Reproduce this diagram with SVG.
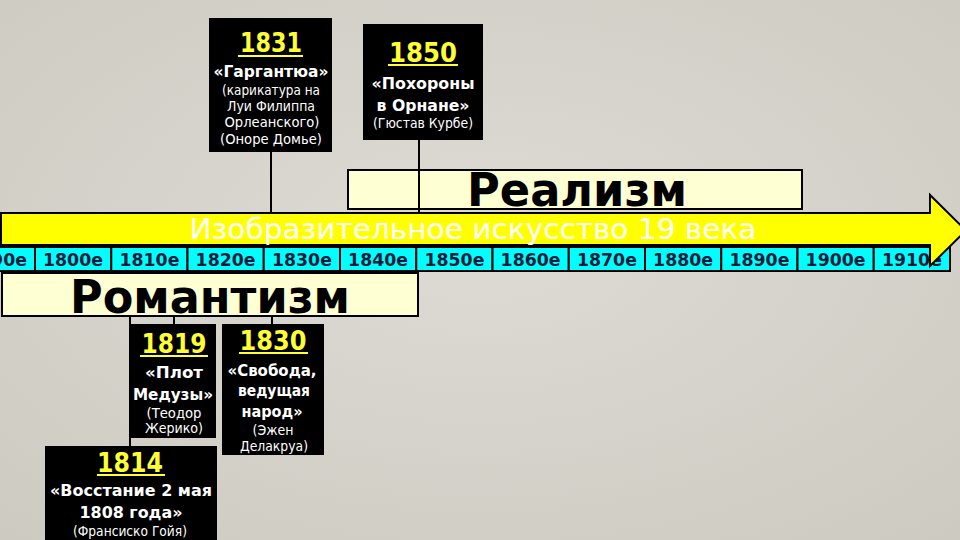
<svg xmlns="http://www.w3.org/2000/svg" width="960" height="540" viewBox="0 0 960 540">
<defs>
<radialGradient id="bg" cx="50%" cy="45%" r="75%">
<stop offset="0" stop-color="#dedbd4"/>
<stop offset="1" stop-color="#cdcac2"/>
</radialGradient>
<style>
text{font-family:"DejaVu Sans","Noto Sans",sans-serif;text-anchor:middle}
.box{fill:#000}
.yr{fill:#ffff33;font-weight:bold;font-size:26px}
.ul{stroke:#ffff33;stroke-width:2}
.t{fill:#fff;font-weight:bold;font-size:16px}
.s{fill:#fff;font-size:13.5px}
.cell{fill:#00ffff;stroke:#000;stroke-width:2}
.ct{fill:#0d1b3a;font-weight:bold;font-size:18px}
.era{fill:#ffffd4;stroke:#000;stroke-width:2}
.et{fill:#000;font-weight:bold;font-size:47px}
.ln{stroke:#000;stroke-width:2;fill:none}
</style>
</defs>
<rect width="960" height="540" fill="url(#bg)"/>

<g id="realism">
<rect class="era" x="348" y="170" width="454" height="39"/>
<text class="et" x="577" y="206" textLength="220" lengthAdjust="spacingAndGlyphs">Реализм</text>
</g>

<g id="romanticism">
<rect class="era" x="2" y="273" width="416" height="43"/>
<text class="et" x="210" y="313" textLength="280" lengthAdjust="spacingAndGlyphs">Романтизм</text>
</g>

<g id="connectors">
<line class="ln" x1="271" y1="152" x2="271" y2="213"/>
<line class="ln" x1="419" y1="140" x2="419" y2="213"/>
<line class="ln" x1="130" y1="316" x2="130" y2="446"/>
<line class="ln" x1="174" y1="316" x2="174" y2="324"/>
<line class="ln" x1="272" y1="316" x2="272" y2="324"/>
</g>

<g id="timeline">
<rect class="cell" x="-41.25" y="247" width="76.25" height="24"/>
<rect class="cell" x="35" y="247" width="76.25" height="24"/>
<rect class="cell" x="111.25" y="247" width="76.25" height="24"/>
<rect class="cell" x="187.5" y="247" width="76.25" height="24"/>
<rect class="cell" x="263.75" y="247" width="76.25" height="24"/>
<rect class="cell" x="340" y="247" width="76.25" height="24"/>
<rect class="cell" x="416.25" y="247" width="76.25" height="24"/>
<rect class="cell" x="492.5" y="247" width="76.25" height="24"/>
<rect class="cell" x="568.75" y="247" width="76.25" height="24"/>
<rect class="cell" x="645" y="247" width="76.25" height="24"/>
<rect class="cell" x="721.25" y="247" width="76.25" height="24"/>
<rect class="cell" x="797.5" y="247" width="76.25" height="24"/>
<rect class="cell" x="873.75" y="247" width="76.25" height="24"/>
<text class="ct" x="-3" y="266" textLength="60" lengthAdjust="spacingAndGlyphs">1790е</text>
<text class="ct" x="73" y="266" textLength="60" lengthAdjust="spacingAndGlyphs">1800е</text>
<text class="ct" x="149.4" y="266" textLength="60" lengthAdjust="spacingAndGlyphs">1810е</text>
<text class="ct" x="225.6" y="266" textLength="60" lengthAdjust="spacingAndGlyphs">1820е</text>
<text class="ct" x="301.9" y="266" textLength="60" lengthAdjust="spacingAndGlyphs">1830е</text>
<text class="ct" x="378.1" y="266" textLength="60" lengthAdjust="spacingAndGlyphs">1840е</text>
<text class="ct" x="454.4" y="266" textLength="60" lengthAdjust="spacingAndGlyphs">1850е</text>
<text class="ct" x="530.6" y="266" textLength="60" lengthAdjust="spacingAndGlyphs">1860е</text>
<text class="ct" x="606.9" y="266" textLength="60" lengthAdjust="spacingAndGlyphs">1870е</text>
<text class="ct" x="683.1" y="266" textLength="60" lengthAdjust="spacingAndGlyphs">1880е</text>
<text class="ct" x="759.4" y="266" textLength="60" lengthAdjust="spacingAndGlyphs">1890е</text>
<text class="ct" x="835.6" y="266" textLength="60" lengthAdjust="spacingAndGlyphs">1900е</text>
<text class="ct" x="911.9" y="266" textLength="60" lengthAdjust="spacingAndGlyphs">1910е</text>
</g>

<g id="arrow">
<path d="M1 213 H930 V195 L966 230.5 L930 266 V245 H1 Z" fill="#ffff00" stroke="#000" stroke-width="2" stroke-linejoin="miter"/>
<text x="473" y="239" fill="#fff" font-size="28" textLength="567" lengthAdjust="spacingAndGlyphs">Изобразительное искусство 19 века</text>
</g>

<g id="e1831">
<rect class="box" x="209" y="18" width="123" height="134"/>
<text class="yr" x="271" y="52" textLength="62" lengthAdjust="spacingAndGlyphs">1831</text>
<line class="ul" x1="238" y1="56" x2="303" y2="56"/>
<text class="t" x="271" y="77" font-size="15" textLength="115" lengthAdjust="spacingAndGlyphs">«Гаргантюа»</text>
<text class="s" x="271" y="95" textLength="98" lengthAdjust="spacingAndGlyphs">(карикатура на</text>
<text class="s" x="271" y="111" textLength="88" lengthAdjust="spacingAndGlyphs">Луи Филиппа</text>
<text class="s" x="272" y="127" textLength="95" lengthAdjust="spacingAndGlyphs">Орлеанского)</text>
<text class="s" x="271" y="144" textLength="102" lengthAdjust="spacingAndGlyphs">(Оноре Домье)</text>
</g>

<g id="e1850">
<rect class="box" x="363" y="24" width="120" height="116"/>
<text class="yr" x="423" y="62" font-size="28" textLength="68" lengthAdjust="spacingAndGlyphs">1850</text>
<line class="ul" x1="388" y1="65" x2="458" y2="65"/>
<text class="t" x="423" y="89" font-size="17" textLength="103" lengthAdjust="spacingAndGlyphs">«Похороны</text>
<text class="t" x="423" y="111" font-size="17" textLength="93" lengthAdjust="spacingAndGlyphs">в Орнане»</text>
<text class="s" x="423" y="128" textLength="100" lengthAdjust="spacingAndGlyphs">(Гюстав Курбе)</text>
</g>

<g id="e1819">
<rect class="box" x="131" y="324" width="85" height="114"/>
<text class="yr" x="174" y="353" textLength="65" lengthAdjust="spacingAndGlyphs">1819</text>
<line class="ul" x1="140" y1="356" x2="208" y2="356"/>
<text class="t" x="174" y="378" textLength="58" lengthAdjust="spacingAndGlyphs">«Плот</text>
<text class="t" x="173" y="400" textLength="80" lengthAdjust="spacingAndGlyphs">Медузы»</text>
<text class="s" x="174" y="418" textLength="55" lengthAdjust="spacingAndGlyphs">(Теодор</text>
<text class="s" x="174" y="433" textLength="58" lengthAdjust="spacingAndGlyphs">Жерико)</text>
</g>

<g id="e1830">
<rect class="box" x="222" y="324" width="102" height="131"/>
<text class="yr" x="273" y="350" textLength="67" lengthAdjust="spacingAndGlyphs">1830</text>
<line class="ul" x1="239" y1="353" x2="308" y2="353"/>
<text class="t" x="272" y="376" textLength="89" lengthAdjust="spacingAndGlyphs">«Свобода,</text>
<text class="t" x="274" y="396" textLength="72" lengthAdjust="spacingAndGlyphs">ведущая</text>
<text class="t" x="272" y="417" textLength="61" lengthAdjust="spacingAndGlyphs">народ»</text>
<text class="s" x="273" y="435" textLength="41" lengthAdjust="spacingAndGlyphs">(Эжен</text>
<text class="s" x="274" y="451" textLength="68" lengthAdjust="spacingAndGlyphs">Делакруа)</text>
</g>

<g id="e1814">
<rect class="box" x="45" y="446" width="172" height="96"/>
<text class="yr" x="130" y="472" textLength="66" lengthAdjust="spacingAndGlyphs">1814</text>
<line class="ul" x1="97" y1="475" x2="165" y2="475"/>
<text class="t" x="131" y="496" textLength="162" lengthAdjust="spacingAndGlyphs">«Восстание 2 мая</text>
<text class="t" x="131" y="518" textLength="103" lengthAdjust="spacingAndGlyphs">1808 года»</text>
<text class="s" x="130" y="536" textLength="114" lengthAdjust="spacingAndGlyphs">(Франсиско Гойя)</text>
</g>
</svg>
